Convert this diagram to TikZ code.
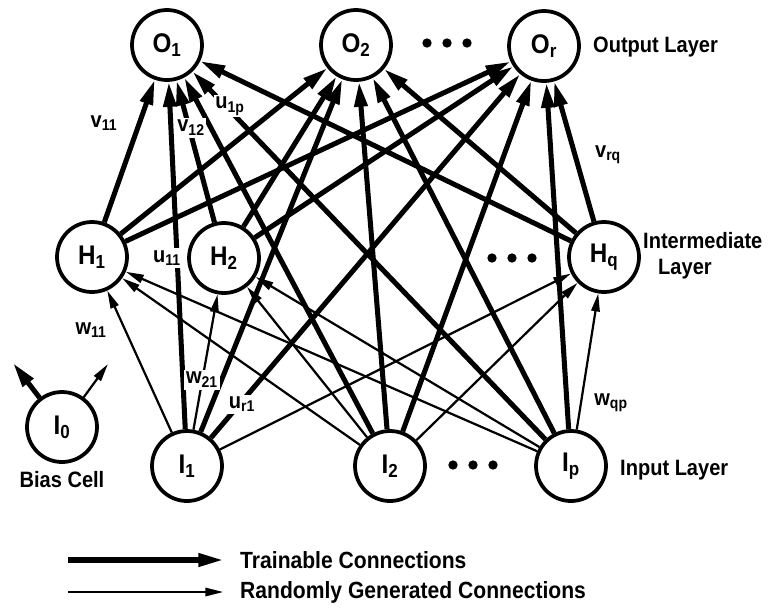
\documentclass[tikz,border=0pt]{standalone}
\usepackage{fontspec}
\setmainfont{Liberation Sans}[FakeStretch=0.9]
\usetikzlibrary{arrows.meta}

\tikzset{
  neuron/.style={circle, draw, line width=3.2pt, minimum size=21mm, inner sep=0pt,
    font=\bfseries\fontsize{23}{25}\selectfont},
  trained/.style={line width=4.3pt, -{Triangle[length=7.5mm,width=3.8mm]}},
  random/.style={line width=1.9pt, -{Triangle[length=5.4mm,width=2.5mm]}},
  wgt/.style={font=\bfseries\fontsize{19}{21}\selectfont, inner sep=1.5pt},
  onwire/.style={wgt, fill=white},
  layertext/.style={font=\bfseries\fontsize{19}{22}\selectfont, inner sep=0pt}
}

\begin{document}
\begin{tikzpicture}[x=0.3mm, y=-0.3mm]
    \useasboundingbox (0,0) rectangle (776,607);
    % output layer
    \node[neuron] (O1) at (167,45) {O\textsubscript{1}};
    \node[neuron] (O2) at (356,45) {O\textsubscript{2}};
    \node[neuron] (Or) at (544,46) {O\textsubscript{r}};
    % intermediate layer
    \node[neuron] (H1) at (92,257) {H\textsubscript{1}};
    \node[neuron] (H2) at (224,258) {H\textsubscript{2}};
    \node[neuron] (Hq) at (604,257) {H\textsubscript{q}};
    % input layer and bias
    \node[neuron] (I0) at (62,427) {I\textsubscript{0}};
    \node[neuron] (I1) at (187,466) {I\textsubscript{1}};
    \node[neuron] (I2) at (390,466) {I\textsubscript{2}};
    \node[neuron] (Ip) at (571,466) {I\textsubscript{p}};
    \coordinate (b1) at (13,363);
    \coordinate (b2) at (108,364);
    % dots
    \foreach \x in {427,447,467} \fill (\x,43) circle (1.4mm);
    \foreach \x in {492,512,532} \fill (\x,258) circle (1.4mm);
    \foreach \x in {453,473,493} \fill (\x,465) circle (1.4mm);
    % trainable: hidden to output
    \draw[trained] (H1) -- (O1);
    \draw[trained] (H1) -- (O2);
    \draw[trained] (H1) -- (Or);
    \draw[trained] (H2) -- (O1);
    \draw[trained] (H2) -- (O2);
    \draw[trained] (H2) -- (Or);
    \draw[trained] (Hq) -- (O1);
    \draw[trained] (Hq) -- (O2);
    \draw[trained] (Hq) -- (Or);
    % trainable: input to output
    \draw[trained] (I1) -- (O1);
    \draw[trained] (I1) -- (O2);
    \draw[trained] (I1) -- (Or);
    \draw[trained] (I2) -- (O1);
    \draw[trained] (I2) -- (O2);
    \draw[trained] (I2) -- (Or);
    \draw[trained] (Ip) -- (O1);
    \draw[trained] (Ip) -- (O2);
    \draw[trained] (Ip) -- (Or);
    % random: input to hidden
    \draw[random] (I1) -- (H1);
    \draw[random] (I1) -- (H2);
    \draw[random] (I1) -- (Hq);
    \draw[random] (I2) -- (H1);
    \draw[random] (I2) -- (H2);
    \draw[random] (I2) -- (Hq);
    \draw[random] (Ip) -- (H1);
    \draw[random] (Ip) -- (H2);
    \draw[random] (Ip) -- (Hq);
    % bias cell
    \draw[trained] (I0) -- (b1);
    \draw[random] (I0) -- (b2);
    % weight labels
    \node[wgt] (lv11) at (104,123) {v\textsubscript{11}};
    \node[onwire] (lv12) at (191,128) {v\textsubscript{12}};
    \node[onwire] (lu1p) at (230,106) {u\textsubscript{1p}};
    \node[onwire] (lu11) at (167,258) {u\textsubscript{11}};
    \node[wgt] (lvrq) at (608,155) {v\textsubscript{rq}};
    \node[wgt] (lw11) at (91,330) {w\textsubscript{11}};
    \node[onwire] (lw21) at (202,380) {w\textsubscript{21}};
    \node[onwire] (lur1) at (242,404) {u\textsubscript{r1}};
    \node[wgt] (lwqp) at (611,403) {w\textsubscript{qp}};
    % layer names
    \node[layertext, anchor=west] (outlbl) at (593,47) {Output Layer};
    \node[layertext, anchor=west, align=left] (midlbl) at (643,256) {Intermediate\\\hspace*{4.5mm}Layer};
    \node[layertext, anchor=west] (inlbl) at (620,470) {Input Layer};
    \node[layertext] (biaslbl) at (62,480) {Bias Cell};
    % legend
    \node[layertext, anchor=west, font=\bfseries\fontsize{20}{22}\selectfont] (trainlbl) at (240,560) {Trainable Connections};
    \node[layertext, anchor=west, font=\bfseries\fontsize{20}{22}\selectfont] (randlbl) at (240,592) {Randomly Generated Connections};
    \coordinate (t0) at (68,560);
    \coordinate (r0) at (68,592);
    \draw[trained] (t0) -- ([xshift=-5mm]trainlbl.west);
    \draw[random] (r0) -- ([xshift=-5mm]randlbl.west);
\end{tikzpicture}
\end{document}
